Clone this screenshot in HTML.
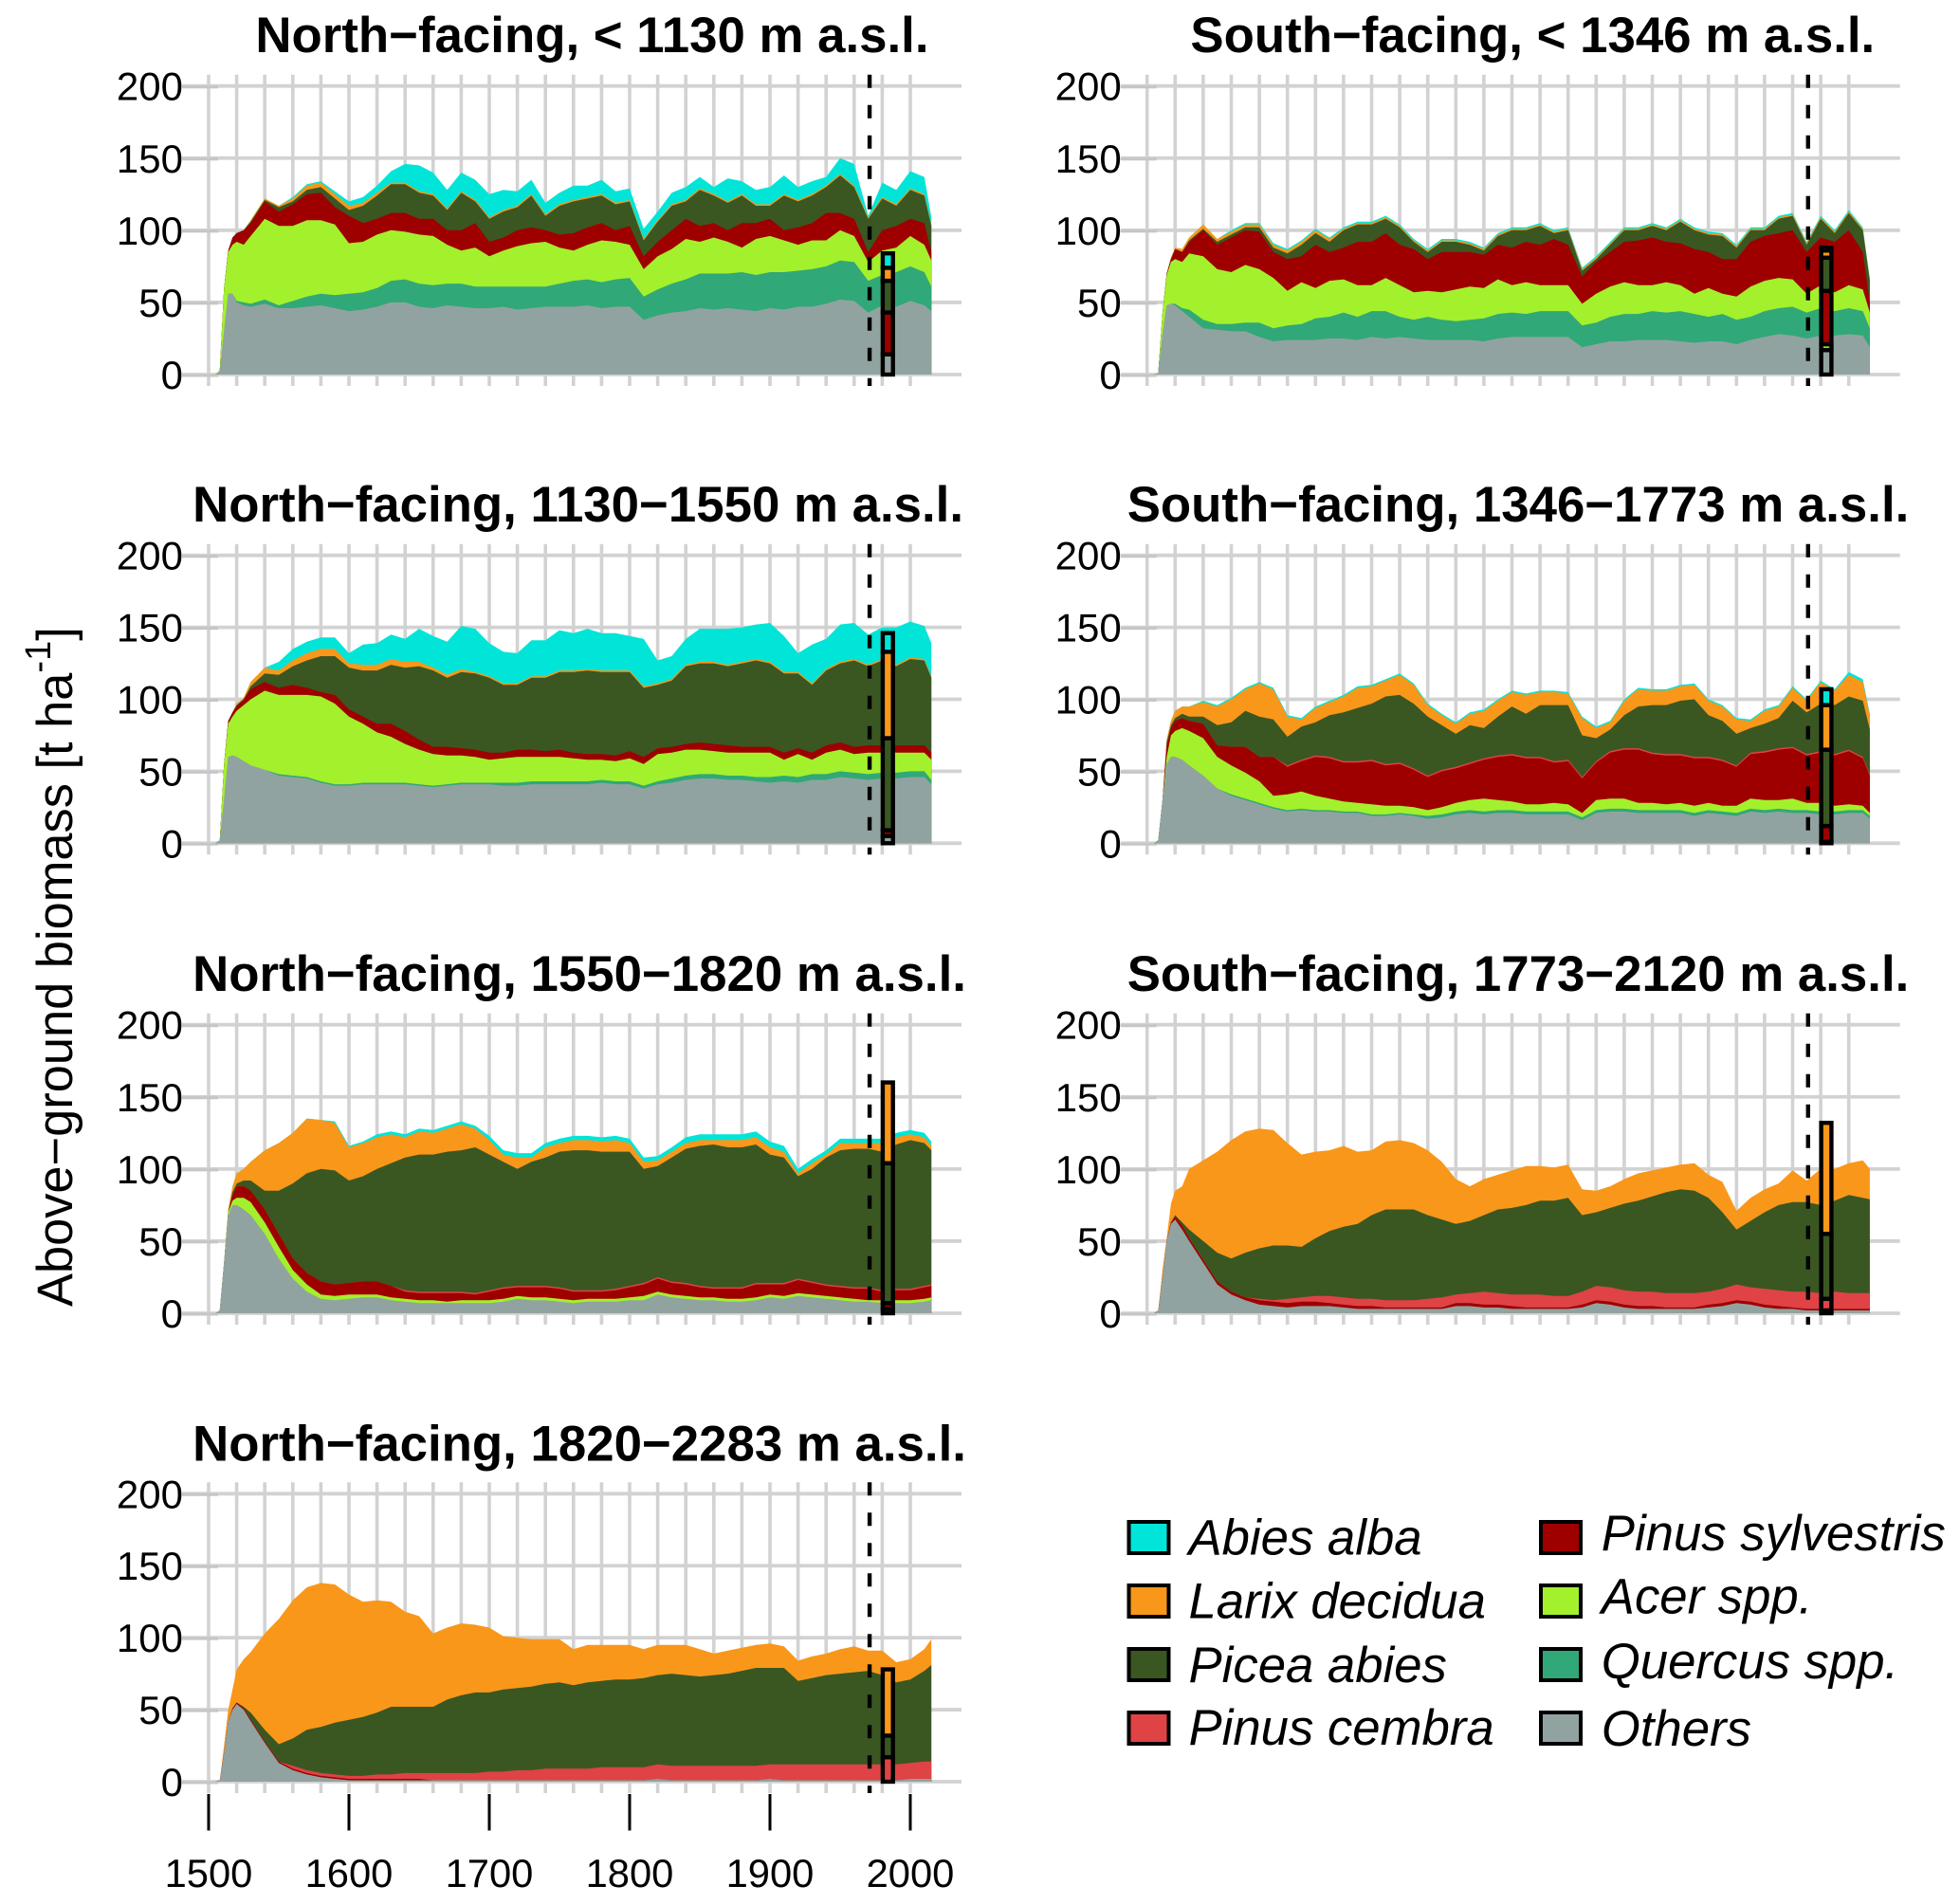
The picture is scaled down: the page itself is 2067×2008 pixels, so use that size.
<!DOCTYPE html>
<html lang="en">
<head>
<meta charset="utf-8">
<title>Above-ground biomass by aspect and elevation</title>
<style>
html,body{margin:0;padding:0;background:#fff;}
svg{display:block;}
text{font-family:"Liberation Sans",sans-serif;fill:#000;}
</style>
</head>
<body>
<svg id="chart" xmlns="http://www.w3.org/2000/svg" width="2067" height="2008" viewBox="0 0 2067 2008"></svg>
<script>
const years=[1505,1508,1511,1514,1517,1520,1525,1530,
1540,1550,1560,1570,1580,1590,
1600,1610,1620,1630,1640,1650,1660,1670,1680,1690,
1700,1710,1720,1730,1740,1750,1760,1770,1780,1790,
1800,1810,1820,1830,1840,1850,1860,1870,1880,1890,
1900,1910,1920,1930,1940,1950,1960,1970,1980,1990,
2000,2010,2015];
const yTickLabels=[0,50,100,150,200];
const xGridYears=[1500,1520,1540,1560,1580,1600,1620,1640,1660,1680,1700,1720,1740,1760,1780,1800,1820,1840,1860,1880,1900,1920,1940,1960,1980,2000];
const xTickLabels=[1500,1600,1700,1800,1900,2000];
const referenceYear=1971;
const summaryBarYear=1984;
const speciesNames=["Others","Quercus spp.","Acer spp.","Pinus sylvestris","Pinus cembra","Picea abies","Larix decidua","Abies alba"];
const speciesColors=["#91a3a0","#31a878","#a3f02d","#9e0000","#df4345","#3a5722","#f9971a","#00e5d8"];
const noBiomass=[0,0,0,0,0,0,0,0, 0,0,0,0,0,0, 0,0,0,0,0,0,0,0,0,0, 0,0,0,0,0,0,0,0,0,0, 0,0,0,0,0,0,0,0,0,0, 0,0,0,0,0,0,0,0,0,0, 0,0,0];

/* North-facing, < 1130 m */
const n1Others=[0,2,30,56,56,50,48,47, 49,46,46,47,48,46, 44,45,47,50,50,47,46,48,47,46, 46,47,45,46,47,47,47,48,46,47, 47,38,41,43,44,46,45,46,45,44, 46,45,47,47,49,52,51,43,48,47, 51,48,44];
const n1Quercus=[0,0,0,0,0,1,2,2, 3,2,5,7,8,9, 12,12,13,15,16,16,16,15,16,15, 15,14,16,15,14,16,18,18,18,19, 20,16,18,20,22,24,25,24,26,25, 25,26,25,26,26,27,27,22,21,24, 24,23,17];
const n1Acer=[0,1,30,29,34,41,40,47, 56,55,52,53,51,49, 35,35,37,35,33,34,34,27,23,27, 21,25,28,30,31,25,21,24,29,26, 23,19,23,24,28,22,25,22,17,25, 25,22,18,20,18,21,18,13,17,17, 21,19,18];
const n1Sylvestris=[0,0,0,1,5,6,10,9, 12,10,15,18,19,12, 19,13,11,12,13,11,12,10,14,17, 10,9,11,11,8,9,12,12,12,8, 13,9,10,13,14,11,10,8,17,11, 12,7,12,12,19,12,12,7,14,15, 12,15,6];
const n1Picea=[0,0,0,0,0,0,0,1, 1,3,2,3,4,6, 4,12,16,20,20,18,16,14,26,15, 16,18,16,22,10,20,22,20,19,18, 17,11,14,17,12,25,19,19,19,12, 9,24,18,19,18,26,22,23,22,14, 20,19,18];
const n1Larix=[0,0,0,0,0,0,0,1, 1,1,2,3,3,3, 3,2,2,1,1,1,1,1,1,1, 1,1,1,1,1,1,1,1,1,1, 1,1,1,1,1,1,1,1,1,1, 1,1,1,1,1,1,1,1,1,1, 1,1,1];
const n1Abies=[0,0,0,0,0,0,0,0, 0,0,1,1,1,2, 3,4,5,8,13,18,15,13,13,14, 16,14,10,10,8,8,10,8,10,8, 8,7,6,8,9,8,5,16,9,10, 12,13,9,9,6,11,15,1,10,10, 12,12,5];
const n1Bar=[14,0,0,29,0,22,9,10];

/* South-facing, < 1346 m */
const s1Others=[0,1,28,48,49,48,44,40, 32,31,30,30,26,23, 24,24,24,25,25,24,26,25,26,25, 24,24,24,24,23,25,26,26,26,26, 26,19,21,23,23,24,24,24,23,22, 23,23,21,24,26,28,27,25,27,27, 28,27,19];
const s1Quercus=[0,0,0,0,0,1,2,5, 6,4,5,6,10,9, 10,11,15,15,18,16,18,19,14,13, 16,14,13,14,16,17,17,16,18,18, 18,15,15,17,19,18,20,19,21,20, 17,19,17,16,18,18,20,18,19,17, 18,17,13];
const s1Acer=[0,0,15,21,29,31,32,39, 44,38,36,40,37,35, 24,29,21,25,23,22,18,23,22,19, 18,19,22,23,21,24,19,22,18,18, 18,15,20,21,22,20,18,21,18,14, 20,14,16,21,21,21,19,13,16,13, 16,15,11];
const s1Sylvestris=[0,0,0,1,2,7,7,8, 18,17,24,24,26,18, 22,18,30,20,22,30,30,31,28,30, 22,28,26,24,23,24,26,28,28,32, 28,19,22,24,28,31,33,28,29,31, 25,24,26,31,31,31,34,29,33,35, 38,26,7];
const s1Picea=[0,0,0,0,0,0,0,1, 1,2,2,2,3,3, 4,8,8,7,12,12,12,10,12,5, 5,7,7,5,3,6,12,8,13,4, 10,4,2,5,8,7,8,8,15,13, 12,16,8,8,4,10,10,5,13,6, 12,15,15];
const s1Larix=[0,0,0,0,1,1,2,2, 3,2,2,2,2,2, 2,2,2,2,1,1,1,1,1,1, 1,1,1,1,1,1,1,1,1,1, 1,1,1,1,1,1,1,1,1,1, 1,1,1,1,1,1,1,1,1,1, 1,1,1];
const s1Abies=[0,0,0,0,0,0,0,0, 0,0,1,1,1,1, 1,1,1,1,1,1,1,1,1,1, 1,1,1,1,1,1,1,1,1,1, 1,1,1,1,1,1,1,1,1,1, 1,1,1,1,1,1,1,1,1,1, 1,1,1];
const s1Bar=[17,0,4,37,0,23,5,2];

/* North-facing, 1130-1550 m */
const n2Others=[0,2,30,60,61,60,57,54, 51,47,46,45,42,40, 40,41,41,41,41,40,39,40,41,41, 41,40,40,41,41,41,41,41,42,41, 41,38,41,42,44,45,45,44,44,43, 42,43,42,44,44,46,45,44,45,45, 46,46,41];
const n2Quercus=[0,0,0,0,0,0,0,0, 0,1,1,1,1,1, 1,1,1,1,1,1,1,1,1,1, 1,2,2,2,2,2,2,2,2,2, 2,2,2,3,3,3,3,3,3,3, 4,4,4,4,4,4,4,4,4,4, 4,4,3];
const n2Acer=[0,0,25,23,27,32,39,46, 55,55,56,57,59,56, 47,41,35,32,27,24,22,20,19,18, 16,17,18,17,17,17,16,15,14,14, 16,15,19,18,18,17,16,16,16,17, 17,11,16,10,15,15,13,15,14,14, 13,13,14];
const n2Sylvestris=[0,0,0,2,3,3,4,7, 6,5,7,5,3,6, 5,5,6,9,9,7,5,6,5,5, 5,4,5,5,4,5,4,4,4,4, 5,5,4,4,4,5,5,5,4,4, 4,5,4,5,5,5,5,5,5,5, 5,5,5];
const n2Picea=[0,0,0,0,0,1,0,2, 6,9,13,19,25,27, 29,32,37,41,44,51,53,48,53,53, 52,47,45,50,51,54,56,58,57,58, 55,48,44,46,54,55,56,55,58,60, 58,55,52,47,52,55,60,55,59,55, 60,59,52];
const n2Larix=[0,0,0,0,0,1,1,3, 4,3,4,5,5,5, 3,4,4,4,4,3,2,2,2,1, 1,1,1,1,1,1,1,1,1,1, 1,1,1,1,1,1,1,1,1,1, 1,1,1,1,1,1,1,1,1,1, 1,1,1];
const n2Abies=[0,0,0,0,0,0,0,0, 0,6,8,8,8,8, 7,14,15,17,16,23,22,23,30,30, 23,22,21,25,25,28,26,28,26,26, 24,33,16,16,18,23,23,25,24,24, 27,25,13,27,21,26,25,21,22,26, 25,23,23];
const n2Bar=[5,0,0,4,0,64,60,13];

/* South-facing, 1346-1773 m */
const s2Others=[0,2,30,55,60,60,58,54, 47,38,33,30,27,24, 22,23,22,22,21,21,19,19,20,19, 17,18,20,21,20,21,21,20,20,20, 20,16,21,22,22,21,21,21,21,19, 21,20,19,22,21,22,21,21,20,20, 21,21,17];
const s2Quercus=[0,0,0,0,0,0,0,0, 0,0,1,1,1,1, 1,1,1,1,1,1,1,1,1,1, 2,2,2,2,2,2,2,2,2,2, 2,2,2,2,2,2,2,2,2,2, 2,2,2,2,2,2,2,2,2,2, 2,2,2];
const s2Acer=[0,0,0,5,15,18,22,24, 26,22,20,18,15,8, 11,12,10,8,7,6,7,6,5,5, 4,5,6,7,9,7,6,5,5,6, 5,3,7,7,7,5,5,4,5,5, 5,4,5,7,7,6,8,5,6,4, 4,3,2];
const s2Sylvestris=[0,0,0,8,5,7,7,7, 10,8,13,18,17,27, 19,21,27,28,27,28,30,28,29,26, 23,25,24,25,27,30,32,32,32,28, 30,24,26,32,34,37,34,34,33,33, 31,31,27,31,33,35,35,33,35,35, 37,33,26];
const s2Cembra=[0,0,0,0,0,0,0,0, 0,0,0,0,0,0, 1,1,1,1,1,1,1,1,1,1, 1,1,1,1,1,1,1,1,1,1, 1,1,1,1,1,1,1,1,1,1, 1,1,1,1,1,1,1,1,1,1, 1,1,1];
const s2Picea=[0,0,0,2,2,2,3,3, 5,14,17,25,28,26, 20,23,23,29,34,37,39,47,47,45, 41,31,23,26,21,27,33,30,36,39, 38,29,16,15,23,29,33,34,37,40, 29,27,22,17,19,21,32,29,33,34, 37,39,31];
const s2Larix=[0,0,0,2,3,5,5,7, 10,13,16,15,23,21, 14,5,10,9,11,14,12,11,14,13, 8,7,7,8,12,11,10,13,9,9, 8,12,7,5,10,12,10,10,10,10, 10,10,10,5,9,8,9,8,15,10, 15,13,10];
const s2Abies=[0,0,0,0,0,0,0,0, 1,1,1,1,1,1, 1,1,1,1,1,1,1,1,1,1, 1,1,1,1,1,1,1,1,1,1, 1,1,1,1,1,1,1,1,1,1, 1,1,1,1,1,1,1,1,1,1, 2,2,1];
const s2Bar=[1,0,0,11,0,53,31,11];

/* North-facing, 1550-1820 m */
const n3Others=[0,2,35,68,75,75,72,68, 55,38,24,15,10,9, 10,11,11,9,8,7,7,7,7,7, 7,8,10,9,9,8,7,8,8,8, 9,9,13,11,10,9,9,8,8,9, 11,10,12,11,10,9,8,8,7,7, 7,8,9];
const n3Acer=[0,0,0,2,3,5,8,9, 8,8,6,5,3,3, 3,2,2,2,2,2,2,1,2,2, 2,2,2,2,2,2,2,2,2,2, 2,3,2,2,2,2,2,2,2,2, 2,2,2,2,2,2,2,1,2,2, 2,2,2];
const n3Sylvestris=[0,0,0,0,4,8,8,8, 9,9,8,8,9,8, 8,9,9,8,5,5,5,6,5,4, 6,7,6,7,7,7,6,5,5,6, 7,8,9,8,8,7,6,7,7,9, 7,8,9,8,7,7,7,8,6,7, 7,8,8];
const n3Cembra=[0,0,0,0,0,0,0,0, 0,0,0,0,0,0, 0,0,0,0,1,1,1,1,1,1, 1,1,1,1,1,1,1,1,1,1, 1,1,1,1,1,1,1,1,1,1, 1,1,1,1,1,1,1,1,1,1, 1,1,1];
const n3Picea=[0,0,0,0,2,2,4,7, 13,30,52,69,78,79, 71,73,78,85,92,95,95,97,98,101, 94,87,81,86,89,94,97,97,96,95, 93,79,77,86,93,97,99,97,97,96, 89,87,71,78,88,94,96,96,96,100, 103,99,93];
const n3Larix=[0,0,0,2,4,7,8,13, 28,33,35,38,34,33, 23,23,22,20,14,16,15,16,18,13, 10,5,8,3,7,6,7,7,7,8, 6,5,4,4,4,4,3,5,5,5, 5,4,2,4,2,5,4,4,6,5, 4,4,3];
const n3Abies=[0,0,0,0,0,0,0,0, 0,0,0,0,0,1, 1,1,2,2,2,2,2,2,2,2, 3,3,3,3,3,3,3,3,3,3, 3,3,3,3,4,4,4,4,4,4, 4,4,3,3,3,3,3,3,3,3, 3,3,3];
const n3Bar=[3,0,0,4,0,97,56,0];

/* South-facing, 1773-2120 m */
const s3Others=[0,2,25,50,62,65,58,50, 35,20,13,9,6,5, 4,5,5,5,4,3,3,3,3,3, 3,3,5,5,4,4,3,3,3,3, 3,4,7,6,4,3,3,3,3,3, 4,5,7,6,4,3,3,2,2,2, 2,2,2];
const s3Sylvestris=[0,0,0,0,1,2,3,2, 2,2,2,2,3,3, 3,3,3,2,2,2,2,1,1,1, 1,1,2,2,2,2,2,1,1,1, 1,2,2,2,2,2,2,1,1,1, 2,2,2,2,2,2,1,1,1,1, 1,1,1];
const s3Cembra=[0,0,0,0,0,0,0,0, 0,0,0,0,1,1, 3,3,4,5,5,5,5,5,5,5, 6,7,6,7,9,8,8,9,9,8, 8,9,10,10,10,10,10,10,10,10, 9,10,11,10,11,11,11,12,11,12, 11,11,11];
const s3Picea=[0,0,0,0,0,1,2,6, 13,20,23,31,35,38, 37,35,40,45,49,52,58,63,63,63, 58,54,49,50,53,58,60,62,65,66, 68,53,51,55,60,63,66,70,72,71, 65,53,38,46,53,59,62,62,61,63, 68,66,65];
const s3Larix=[0,0,5,2,13,17,25,42, 56,70,82,84,83,80, 71,64,60,56,56,50,45,47,48,46, 45,40,31,24,25,24,26,27,24,23, 23,18,15,15,17,19,18,17,17,19, 16,21,13,16,16,15,22,15,25,22, 22,26,21];
const s3Bar=[1,0,0,1,8,45,77,0];

/* North-facing, 1820-2283 m */
const n4Others=[0,1,20,42,50,54,50,42, 27,13,8,5,3,2, 1,1,1,1,1,1,1,1,1,1, 1,1,1,1,1,1,1,1,1,1, 1,1,2,1,1,1,1,1,1,1, 2,1,1,1,1,1,1,1,1,1, 2,2,2];
const n4Sylvestris=[0,0,0,0,1,1,1,1, 1,1,1,1,1,1, 1,1,1,1,1,1,0,0,0,0, 0,0,0,0,0,0,0,0,0,0, 0,0,0,0,0,0,0,0,0,0, 0,0,0,0,0,0,0,0,0,0, 0,0,0];
const n4Cembra=[0,0,0,0,0,0,0,0, 0,0,2,2,2,2, 2,2,3,3,4,4,5,5,5,5, 6,6,7,7,8,8,8,8,9,9, 9,9,10,10,10,10,10,10,10,10, 10,11,11,11,11,11,11,11,11,11, 11,12,12];
const n4Picea=[0,0,0,0,0,0,1,5, 8,12,19,28,32,36, 39,41,43,47,46,46,46,51,54,56, 55,57,57,58,59,60,58,60,60,61, 61,62,62,64,63,62,63,64,66,68, 67,67,58,60,62,63,64,65,62,57, 58,63,67];
const n4Larix=[0,0,5,8,13,23,33,42, 67,87,96,99,100,96, 87,80,78,73,66,63,51,50,50,47, 45,37,35,33,31,30,25,26,25,24, 24,20,21,20,21,19,15,16,16,16, 17,15,14,15,15,17,18,14,17,14, 14,15,18];
const n4Bar=[0,0,0,0,17,15,46,0];

const panels=[
{key:"north-below-1130",title:"North\u2212facing, < 1130 m a.s.l.",titleX:269.4,titleY:55,xOrigin:220,y0:395,y200:90.7,stack:[n1Others,n1Quercus,n1Acer,n1Sylvestris,noBiomass,n1Picea,n1Larix,n1Abies],bar:n1Bar},
{key:"south-below-1346",title:"South\u2212facing, < 1346 m a.s.l.",titleX:1255.4,titleY:55,xOrigin:1209.7,y0:395,y200:90.7,stack:[s1Others,s1Quercus,s1Acer,s1Sylvestris,noBiomass,s1Picea,s1Larix,s1Abies],bar:s1Bar},
{key:"north-1130-1550",title:"North\u2212facing, 1130\u22121550 m a.s.l.",titleX:203.1,titleY:550,xOrigin:220,y0:889.3,y200:585.7,stack:[n2Others,n2Quercus,n2Acer,n2Sylvestris,noBiomass,n2Picea,n2Larix,n2Abies],bar:n2Bar},
{key:"south-1346-1773",title:"South\u2212facing, 1346\u22121773 m a.s.l.",titleX:1188.7,titleY:550,xOrigin:1209.7,y0:889.3,y200:585.7,stack:[s2Others,s2Quercus,s2Acer,s2Sylvestris,s2Cembra,s2Picea,s2Larix,s2Abies],bar:s2Bar},
{key:"north-1550-1820",title:"North\u2212facing, 1550\u22121820 m a.s.l.",titleX:203.1,titleY:1045,xOrigin:220,y0:1385,y200:1080.7,stack:[n3Others,noBiomass,n3Acer,n3Sylvestris,n3Cembra,n3Picea,n3Larix,n3Abies],bar:n3Bar},
{key:"south-1773-2120",title:"South\u2212facing, 1773\u22122120 m a.s.l.",titleX:1188.7,titleY:1045,xOrigin:1209.7,y0:1385,y200:1080.7,stack:[s3Others,noBiomass,noBiomass,s3Sylvestris,s3Cembra,s3Picea,s3Larix,noBiomass],bar:s3Bar},
{key:"north-1820-2283",title:"North\u2212facing, 1820\u22122283 m a.s.l.",titleX:203.1,titleY:1540.6,xOrigin:220,y0:1879,y200:1575.3,stack:[n4Others,noBiomass,noBiomass,n4Sylvestris,n4Cembra,n4Picea,n4Larix,noBiomass],bar:n4Bar,showXAxis:true}
];

const NS="http://www.w3.org/2000/svg";
const svg=document.getElementById("chart");
const PX_PER_YEAR=1.48;
const GRID="#d2d2d2";

function make(parent,tag,attrs,txt){
  const n=document.createElementNS(NS,tag);
  for(const k in attrs){n.setAttribute(k,attrs[k]);}
  if(txt!==undefined){n.textContent=txt;}
  parent.appendChild(n);
  return n;
}

function drawPanel(p){
  const g=make(svg,"g",{});
  
  
  const xs=function(yr){return p.xOrigin+(yr-1500)*PX_PER_YEAR;};
  const ys=function(v){return p.y0-(p.y0-p.y200)*v/200;};
  const gridTop=p.y200-12;
  const gridBottom=p.y0+12;
  const gridRight=xs(1500)+794;
  const labelRight=xs(1500)-28;

  const title=make(g,"text",{x:p.titleX,y:p.titleY,"font-size":52.8,"font-weight":"bold"},p.title);
  
  

  xGridYears.forEach(function(yr){
    const l=make(g,"line",{x1:xs(yr),x2:xs(yr),y1:gridTop,y2:gridBottom,stroke:GRID,"stroke-width":3.6});
    
    
  });
  yTickLabels.forEach(function(v){
    const l=make(g,"line",{x1:labelRight,x2:gridRight,y1:ys(v),y2:ys(v),stroke:GRID,"stroke-width":3.8});
    
    
    const t=make(g,"line",{x1:labelRight,x2:xs(1500)+10,y1:ys(v)+1,y2:ys(v)+1,stroke:"#c6c6c6","stroke-width":3});
    
    
    const lab=make(g,"text",{x:labelRight+1,y:ys(v)+15,"font-size":42,"text-anchor":"end"},String(v));
    
    
  });

  const tops=[];
  let running=years.map(function(){return 0;});
  p.stack.forEach(function(series){
    running=running.map(function(c,i){return c+(series[i]||0);});
    tops.push(running);
  });
  for(let s=p.stack.length-1;s>=0;s--){
    if(!p.stack[s].some(function(v){return v>0;})){continue;}
    let d="M"+xs(years[0]).toFixed(1)+" "+ys(0).toFixed(1);
    years.forEach(function(yr,i){d+=" L"+xs(yr).toFixed(1)+" "+ys(tops[s][i]).toFixed(1);});
    d+=" L"+xs(years[years.length-1]).toFixed(1)+" "+ys(0).toFixed(1)+" Z";
    const a=make(g,"path",{d:d,fill:speciesColors[s]});
    
    
  }

  const dash=make(g,"line",{x1:xs(referenceYear),x2:xs(referenceYear),y1:gridTop,y2:gridBottom,stroke:"#000","stroke-width":4.4,"stroke-dasharray":"14 18"});
  
  

  let base=0;
  p.bar.forEach(function(v,i){
    if(v<=0){return;}
    const r=make(g,"rect",{x:xs(summaryBarYear)-5.4,width:10.8,y:ys(base+v),height:ys(base)-ys(base+v),fill:speciesColors[i],stroke:"#000","stroke-width":4.4});
    
    
    base+=v;
  });

  if(p.showXAxis){
    xTickLabels.forEach(function(yr){
      const t=make(g,"line",{x1:xs(yr),x2:xs(yr),y1:1892,y2:1930.5,stroke:"#000","stroke-width":3});
      
      
      const lab=make(g,"text",{x:xs(yr),y:1990,"font-size":41.7,"text-anchor":"middle"},String(yr));
      
      
    });
  }
}
panels.forEach(drawPanel);
</script>
<script>
(function(){
  const s=document.getElementById("chart");
  const ns="http://www.w3.org/2000/svg";
  const axis=document.createElementNS(ns,"text");
  axis.setAttribute("transform","translate(76 1378) rotate(-90)");
  axis.setAttribute("font-size","52.4");
  
  
  axis.appendChild(document.createTextNode("Above\u2212ground biomass [t ha"));
  const sup=document.createElementNS(ns,"tspan");
  sup.setAttribute("dy","-23");
  sup.setAttribute("font-size","38");
  sup.textContent="-1";
  axis.appendChild(sup);
  const close=document.createElementNS(ns,"tspan");
  close.setAttribute("dy","23");
  close.textContent="]";
  axis.appendChild(close);
  s.appendChild(axis);
})();
</script>
<script>
const legendLabels=["Abies alba","Larix decidua","Picea abies","Pinus cembra","Pinus sylvestris","Acer spp.","Quercus spp.","Others"];
const legendColors=["#00e5d8","#f9971a","#3a5722","#df4345","#9e0000","#a3f02d","#31a878","#91a3a0"];
const legendBaselines=[1639.3,1706.7,1774,1840,1635,1701.7,1770,1841];
(function(){
  const s=document.getElementById("chart");
  const ns="http://www.w3.org/2000/svg";
  const g=document.createElementNS(ns,"g");
  
  
  s.appendChild(g);
  const boxTops=[1605,1672,1739,1806];
  legendLabels.forEach(function(label,i){
    const col=i<4?0:1;
    const row=i%4;
    const r=document.createElementNS(ns,"rect");
    r.setAttribute("x",col===0?1190.5:1625);
    r.setAttribute("y",boxTops[row]);
    r.setAttribute("width",42);
    r.setAttribute("height",33);
    r.setAttribute("fill",legendColors[i]);
    r.setAttribute("stroke","#000");
    r.setAttribute("stroke-width",4);
    
    
    g.appendChild(r);
    const t=document.createElementNS(ns,"text");
    t.setAttribute("x",col===0?1253.5:1688.8);
    t.setAttribute("y",legendBaselines[i]);
    t.setAttribute("font-size",52.7);
    t.setAttribute("font-style","italic");
    
    
    t.textContent=label;
    g.appendChild(t);
  });
})();
</script>
</body>
</html>
